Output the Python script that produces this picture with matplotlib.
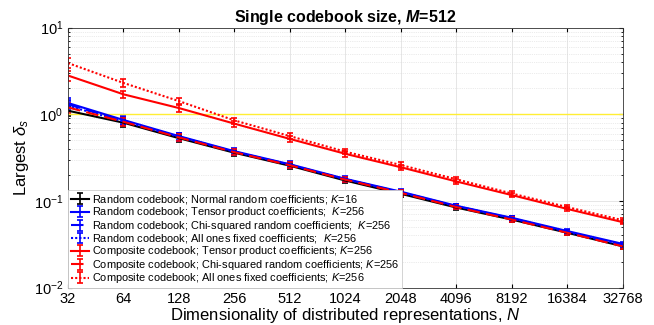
import numpy as np
import matplotlib
matplotlib.use("Agg")
import matplotlib.pyplot as plt

plt.rcParams['font.family'] = ['Liberation Sans', 'DejaVu Sans']
plt.rcParams['mathtext.fontset'] = 'custom'
plt.rcParams['mathtext.it'] = 'Liberation Sans:italic'
plt.rcParams['mathtext.rm'] = 'Liberation Sans'
plt.rcParams['mathtext.bfit'] = 'Liberation Sans:italic:bold'

N = [32, 64, 128, 256, 512, 1024, 2048, 4096, 8192, 16384, 32768]

# largest delta_s per N
rand_normal = [1.10, 0.80, 0.53, 0.36, 0.255, 0.172, 0.121, 0.084, 0.061, 0.043, 0.030]
rand_tensor = [1.35, 0.86, 0.56, 0.375, 0.265, 0.180, 0.128, 0.088, 0.064, 0.045, 0.032]
rand_chi = [1.30, 0.84, 0.55, 0.37, 0.262, 0.178, 0.126, 0.087, 0.063, 0.044, 0.031]
rand_ones = [1.25, 0.83, 0.55, 0.37, 0.262, 0.178, 0.126, 0.087, 0.063, 0.044, 0.031]
comp_tensor = [2.80, 1.70, 1.18, 0.78, 0.52, 0.35, 0.245, 0.168, 0.117, 0.081, 0.057]
comp_chi = [1.20, 0.82, 0.54, 0.365, 0.258, 0.176, 0.124, 0.085, 0.061, 0.043, 0.030]
comp_ones = [3.90, 2.30, 1.42, 0.85, 0.56, 0.37, 0.26, 0.178, 0.122, 0.085, 0.060]

# relative half-width of the error bars
rel_err = [0.13, 0.10, 0.10, 0.08, 0.08, 0.07, 0.07, 0.06, 0.06, 0.06, 0.06]

labels = [
    "Random codebook; Normal random coefficients; $K$=16",
    "Random codebook; Tensor product coefficients;  $K$=256",
    "Random codebook; Chi-squared random coefficients;  $K$=256",
    "Random codebook; All ones fixed coefficients;  $K$=256",
    "Composite codebook; Tensor product coefficients; $K$=256",
    "Composite codebook; Chi-squared random coefficients; $K$=256",
    "Composite codebook; All ones fixed coefficients; $K$=256",
]
series = [rand_normal, rand_tensor, rand_chi, rand_ones, comp_tensor, comp_chi, comp_ones]
colors = ['black', 'blue', 'blue', 'blue', 'red', 'red', 'red']
styles = ['-', '-', (0, (6, 3)), (0, (1, 1)), '-', (0, (6, 3)), (0, (1, 1))]

fig = plt.figure(figsize=(6.54, 3.25), dpi=100)
ax = fig.add_axes([0.104, 0.115, 0.848, 0.80])

err = np.array(rel_err)
for y, lab, c, ls in zip(series, labels, colors, styles):
    y = np.array(y)
    ax.errorbar(N, y, yerr=y * err, color=c, linestyle=ls, lw=1.5,
                capsize=2, elinewidth=1.2, capthick=1.2, label=lab)

ax.plot([N[0], N[-1]], [1, 1], color='#ffee33', lw=1.0)

ax.set_xscale('log', base=2)
ax.set_yscale('log')
ax.set_xlim(N[0], N[-1])
ax.set_ylim(1e-2, 1e1)
ax.set_xticks(N)
ax.set_xticklabels([str(n) for n in N])
ax.minorticks_on()
ax.xaxis.set_minor_locator(matplotlib.ticker.NullLocator())
ax.tick_params(which='both', direction='in', top=True, right=True, labelsize=10.5)
ax.tick_params(which='major', length=3)
ax.tick_params(which='minor', length=1.5)
ax.grid(True, which='major', color='#e2e2e2', lw=0.6)
ax.grid(True, which='minor', axis='y', color='#d8d8d8', lw=0.5, linestyle=':')
for s in ax.spines.values():
    s.set_color('#333333')
    s.set_linewidth(0.6)

ax.set_title("Single codebook size, $\\mathbfit{M}$=512", fontsize=11.5, fontweight='bold', pad=4)
ax.set_xlabel("Dimensionality of distributed representations, $N$", fontsize=12, labelpad=0)
ax.set_ylabel("Largest $\\delta_s$", fontsize=12, labelpad=2)

leg = ax.legend(loc='lower left', fontsize=7.9, handlelength=1.7, handleheight=0.4,
                handletextpad=0.2, borderpad=0.25, labelspacing=-0.06, borderaxespad=0.0,
                frameon=True, fancybox=False, edgecolor='#cccccc', framealpha=1)
leg.get_frame().set_linewidth(0.6)

fig.savefig("out.png", dpi=100)
